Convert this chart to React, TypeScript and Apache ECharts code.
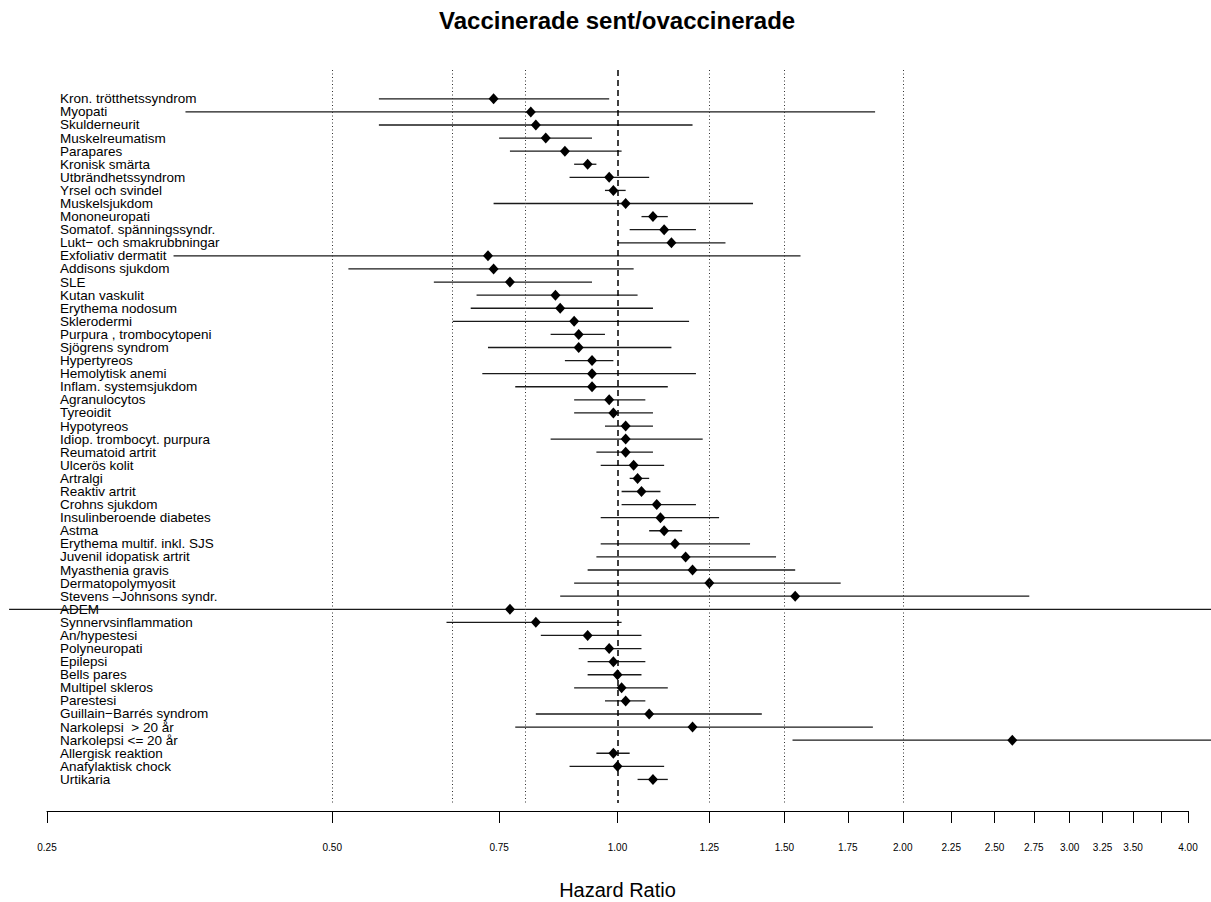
import React, { useEffect, useRef } from "react";
import * as echarts from "echarts";

// Conditions, listed top to bottom
const conditions = [
  "Kron. trötthetssyndrom",
  "Myopati",
  "Skulderneurit",
  "Muskelreumatism",
  "Parapares",
  "Kronisk smärta",
  "Utbrändhetssyndrom",
  "Yrsel och svindel",
  "Muskelsjukdom",
  "Mononeuropati",
  "Somatof. spänningssyndr.",
  "Lukt− och smakrubbningar",
  "Exfoliativ dermatit",
  "Addisons sjukdom",
  "SLE",
  "Kutan vaskulit",
  "Erythema nodosum",
  "Sklerodermi",
  "Purpura , trombocytopeni",
  "Sjögrens syndrom",
  "Hypertyreos",
  "Hemolytisk anemi",
  "Inflam. systemsjukdom",
  "Agranulocytos",
  "Tyreoidit",
  "Hypotyreos",
  "Idiop. trombocyt. purpura",
  "Reumatoid artrit",
  "Ulcerös kolit",
  "Artralgi",
  "Reaktiv artrit",
  "Crohns sjukdom",
  "Insulinberoende diabetes",
  "Astma",
  "Erythema multif. inkl. SJS",
  "Juvenil idopatisk artrit",
  "Myasthenia gravis",
  "Dermatopolymyosit",
  "Stevens –Johnsons syndr.",
  "ADEM",
  "Synnervsinflammation",
  "An/hypestesi",
  "Polyneuropati",
  "Epilepsi",
  "Bells pares",
  "Multipel skleros",
  "Parestesi",
  "Guillain−Barrés syndrom",
  "Narkolepsi  > 20 år",
  "Narkolepsi <= 20 år",
  "Allergisk reaktion",
  "Anafylaktisk chock",
  "Urtikaria",
];

// Hazard ratio point estimates
const hazardRatio = [
  0.74, 0.81, 0.82, 0.84, 0.88, 0.93, 0.98, 0.99, 1.02, 1.09, 1.12, 1.14,
  0.73, 0.74, 0.77, 0.86, 0.87, 0.9, 0.91, 0.91, 0.94, 0.94, 0.94, 0.98,
  0.99, 1.02, 1.02, 1.02, 1.04, 1.05, 1.06, 1.1, 1.11, 1.12, 1.15, 1.18,
  1.2, 1.25, 1.54, 0.77, 0.82, 0.93, 0.98, 0.99, 1.0, 1.01, 1.02, 1.08,
  1.2, 2.61, 0.99, 1.0, 1.09,
];

// Lower 95% confidence limits
const ciLower = [
  0.56, 0.35, 0.56, 0.75, 0.77, 0.9, 0.89, 0.97, 0.74, 1.06, 1.03, 1.0,
  0.34, 0.52, 0.64, 0.71, 0.7, 0.67, 0.85, 0.73, 0.88, 0.72, 0.78, 0.9,
  0.9, 0.97, 0.85, 0.95, 0.96, 1.03, 1.01, 1.01, 0.96, 1.08, 0.96, 0.95,
  0.93, 0.9, 0.87, 0.228, 0.66, 0.83, 0.91, 0.93, 0.93, 0.9, 0.97, 0.82,
  0.78, 1.53, 0.95, 0.89, 1.05,
];

// Upper 95% confidence limits
const ciUpper = [
  0.98, 1.87, 1.2, 0.94, 1.01, 0.95, 1.08, 1.02, 1.39, 1.13, 1.21, 1.3,
  1.56, 1.04, 0.94, 1.05, 1.09, 1.19, 0.97, 1.14, 0.99, 1.21, 1.13, 1.07,
  1.09, 1.09, 1.23, 1.09, 1.12, 1.08, 1.11, 1.21, 1.28, 1.17, 1.38, 1.47,
  1.54, 1.72, 2.72, 5.0, 1.01, 1.06, 1.06, 1.07, 1.06, 1.13, 1.07, 1.42,
  1.86, 5.0, 1.03, 1.12, 1.13,
];

// Axis ticks (3.75 has a tick but no label)
const tickValues = [0.25, 0.5, 0.75, 1, 1.25, 1.5, 1.75, 2, 2.25, 2.5, 2.75, 3, 3.25, 3.5, 3.75, 4];
const tickLabelValues = [0.25, 0.5, 0.75, 1, 1.25, 1.5, 1.75, 2, 2.25, 2.5, 2.75, 3, 3.25, 3.5, 4];

// Reference lines
const dottedRefs = [0.5, 2 / 3, 0.8, 1.25, 1.5, 2];
const nullEffect = 1;

const FONT = '"Liberation Sans", Arial, Helvetica, sans-serif';

export default function App() {
  const ref = useRef<HTMLDivElement>(null);

  useEffect(() => {
    if (!ref.current) return;
    const chart = echarts.init(ref.current, null, { renderer: "svg" });
    const rows = conditions.map((_, i) => i + 1);
    // Blank end stops keep the axis from dropping the 2nd and 2nd-to-last row names
    const rowLabelPositions = [-1, ...rows, conditions.length + 1.6];

    chart.setOption({
      animation: false,
      backgroundColor: "#ffffff",
      title: {
        text: "Vaccinerade sent/ovaccinerade",
        left: 434,
        top: 3,
        textStyle: { fontFamily: FONT, fontSize: 24, fontWeight: "bold", color: "#000" },
      },
      grid: { left: 47, right: 23, top: 70, bottom: 99, outerBoundsMode: "none" },
      xAxis: {
        type: "log",
        logBase: 2,
        min: 0.25,
        max: 4,
        offset: 8,
        name: "Hazard Ratio",
        nameLocation: "middle",
        nameGap: 69,
        nameTextStyle: { fontFamily: FONT, fontSize: 20, color: "#000" },
        axisLine: { show: true, onZero: false, lineStyle: { color: "#000", width: 1 } },
        axisTick: { show: true, length: 12, customValues: tickValues, lineStyle: { color: "#000", width: 1 } },
        axisLabel: {
          customValues: tickLabelValues,
          formatter: (v: number) => Number(v).toFixed(2),
          margin: 31,
          showMinLabel: true,
          showMaxLabel: true,
          fontFamily: FONT,
          fontSize: 10,
          color: "#000",
        },
        splitLine: { show: false },
        minorTick: { show: false },
        minorSplitLine: { show: false },
      },
      yAxis: {
        type: "value",
        inverse: true,
        min: -1.2,
        max: 54.8,
        axisLine: { show: false, onZero: false },
        axisTick: { show: false },
        splitLine: { show: false },
        axisLabel: {
          customValues: rowLabelPositions,
          formatter: (v: number) => {
            const i = Math.round(v);
            return Math.abs(v - i) < 1e-6 ? conditions[i - 1] ?? "" : "";
          },
          align: "left",
          margin: -13,
          hideOverlap: false,
          fontFamily: FONT,
          fontSize: 13.5,
          lineHeight: 11,
          color: "#000",
        },
      },
      series: [
        {
          type: "custom",
          name: "ci",
          clip: false,
          silent: true,
          z: 3,
          data: rows.map((r, i) => [ciLower[i], ciUpper[i], r]),
          encode: { x: [0, 1], y: 2 },
          renderItem: (_params: any, api: any) => {
            const a = api.coord([api.value(0), api.value(2)]);
            const b = api.coord([api.value(1), api.value(2)]);
            return {
              type: "line",
              shape: { x1: a[0], y1: a[1], x2: b[0], y2: b[1] },
              style: { stroke: "#1a1a1a", lineWidth: 1.3 },
            };
          },
        },
        {
          type: "scatter",
          name: "hr",
          silent: true,
          z: 4,
          symbol: "diamond",
          symbolSize: [10, 11],
          itemStyle: { color: "#000", opacity: 1 },
          data: rows.map((r, i) => [hazardRatio[i], r]),
          markLine: {
            silent: true,
            symbol: ["none", "none"],
            label: { show: false },
            data: [
              ...dottedRefs.map((v) => ({
                xAxis: v,
                lineStyle: { color: "#333", width: 1, type: [1, 2.5] },
              })),
              { xAxis: nullEffect, lineStyle: { color: "#000", width: 1.5, type: [6, 4] } },
            ],
          },
        },
      ],
    });

    return () => chart.dispose();
  }, []);

  return (
    <div
      ref={ref}
      style={{ position: "absolute", left: 0, top: 0, width: 1211, height: 902, background: "#fff" }}
    />
  );
}
